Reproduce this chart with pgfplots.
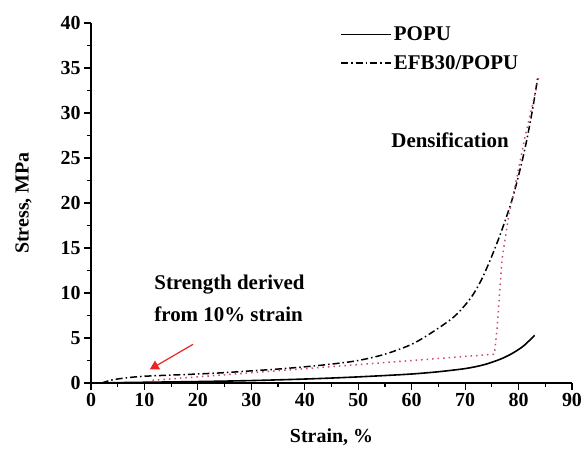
\documentclass[border=0pt]{standalone}
\usepackage{pgfplots}
\pgfplotsset{compat=1.18}
\usepackage{fontspec}
\setmainfont{Liberation Serif}
\usetikzlibrary{arrows.meta}
\definecolor{dotred}{RGB}{205,75,100}
\definecolor{arrred}{RGB}{235,35,35}
\begin{document}
\begin{tikzpicture}
\begin{axis}[
    name=ax,
    scale only axis,
    width=481bp, height=360bp,
    xmin=0, xmax=90, ymin=0, ymax=40,
    axis x line*=bottom, axis y line*=left,
    axis line style={line width=1.4bp},
    xtick={0,10,...,90}, ytick={0,5,...,40},
    minor x tick num=1, minor y tick num=1,
    tick align=outside,
    major tick length=7bp, minor tick length=4bp,
    tick style={line width=1.2bp, black},
    /pgf/number format/assume math mode=true,
    ticklabel style={font=\fontsize{20}{24}\selectfont\bfseries},
    xlabel={Strain, \%}, ylabel={Stress, MPa},
    label style={font=\fontsize{20}{24}\selectfont\bfseries},
    xlabel style={at={(axis description cs:0.5,-0.15)}, anchor=center},
    ylabel style={at={(axis description cs:-0.14,0.5)}, anchor=center},
    legend style={draw=none, fill=none, at={(rel axis cs:0.518,0.995)}, anchor=north west,
        font=\fontsize{21}{25}\selectfont\bfseries, row sep=9bp, inner sep=0pt,
        cells={anchor=west}},
    legend image code/.code={\draw[#1] (0bp,0bp) -- (50bp,0bp);},
]
% POPU
\addplot[black, line width=1.6bp, smooth] coordinates {
    (2,0) (5,0.04) (10,0.08) (15,0.12) (20,0.16) (25,0.21) (30,0.27) (35,0.35)
    (40,0.44) (45,0.55) (50,0.68) (55,0.83) (60,1.0) (65,1.25) (70,1.6)
    (73,1.95) (75,2.3) (77,2.75) (79,3.35) (81,4.15) (83,5.3)
};
\addlegendentry{POPU}
% EFB30/POPU
\addplot[black, line width=1.5bp, smooth, dash pattern=on 7bp off 3bp on 1.5bp off 3bp] coordinates {
    (2,0) (4,0.35) (7,0.6) (10,0.75) (15,0.88) (20,1.0) (25,1.15) (30,1.35)
    (35,1.55) (40,1.8) (45,2.1) (50,2.5) (55,3.2) (60,4.3) (64,5.7) (68,7.4)
    (71,9.4) (73,11.4) (75,14.1) (77,17.2) (79,20.8) (81,25.5) (82.5,30) (83.6,34)
};
\addlegendentry{EFB30/POPU}
% tangent lines
\addplot[dotred, line width=1.5bp, dash pattern=on 1.5bp off 4bp, forget plot] coordinates {
    (11.5,0.3) (75.5,3.2) (76.0,6.2) (76.9,13.7) (78.1,18.4) (79.7,22.9) (81.2,27.3) (83.8,34)
};
\draw[arrred, line width=1.2bp, -{Triangle[length=9bp,width=10bp]}]
    (axis cs:19.1,4.3) -- (axis cs:11,1.5);
\node[anchor=west, align=left, font=\fontsize{21}{33}\selectfont\bfseries]
    at (axis cs:11.2,9.4) {Strength derived\\from 10\% strain};
\node[font=\fontsize{21}{25}\selectfont\bfseries] at (axis cs:67.2,27) {Densification};
\end{axis}
\pgfresetboundingbox
\path ([shift={(-91bp,-68bp)}]ax.south west) rectangle ([shift={(497bp,383bp)}]ax.south west);
\end{tikzpicture}
\end{document}
